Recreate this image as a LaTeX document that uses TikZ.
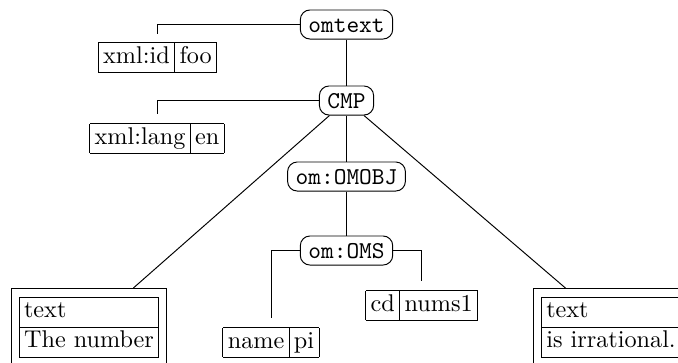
\documentclass[tikz,border=0pt]{standalone}
\setlength\tabcolsep{2pt}
\tikzset{
  elem/.style={draw, rounded corners=4pt, font=\ttfamily, inner xsep=3.33pt, inner ysep=0pt,
    minimum height=12pt, text height=6.2pt, text depth=0pt},
  attr/.style={inner sep=3.5pt, anchor=north},
  textbox/.style={draw, inner sep=3.33pt, anchor=north},
  conn/.style={line width=0.4pt}
}
\begin{document}
\begin{tikzpicture}[x=0.413pt,y=-0.413pt]
\clip (0,0) rectangle (678,362);
\useasboundingbox (0,0) rectangle (678,362);
\node[elem] (omtext) at (346.5,24.5) {omtext};
\node[elem] (cmp) at (346.5,100.5) {CMP};
\node[elem] (omobj) at (346.5,176.5) {om:OMOBJ};
\node[elem] (oms) at (346.5,250.5) {om:OMS};
\node[attr] (id) at (157.5,33.5) {\begin{tabular}{|l|l|}\hline xml:id&foo\\\hline\end{tabular}};
\node[attr] (lang) at (157,114) {\begin{tabular}{|l|l|}\hline xml:lang&en\\\hline\end{tabular}};
\node[attr] (name) at (271,318) {\begin{tabular}{|l|l|}\hline name&pi\\\hline\end{tabular}};
\node[attr] (cd) at (421.7,281) {\begin{tabular}{|l|l|}\hline cd&nums1\\\hline\end{tabular}};
\node[textbox] (t1) at (89,288) {\begin{tabular}{|l|}\hline text\\\hline The number\\\hline\end{tabular}};
\node[textbox] (t2) at (611,288) {\begin{tabular}{|l|}\hline text\\\hline is irrational.\\\hline\end{tabular}};
\draw[conn] (omtext.west) -| (id.north);
\draw[conn] (omtext) -- (cmp);
\draw[conn] (cmp.west) -| (lang.north);
\draw[conn] (cmp) -- (omobj);
\draw[conn] (cmp) -- (t1);
\draw[conn] (cmp) -- (t2);
\draw[conn] (omobj) -- (oms);
\draw[conn] (oms.west) -| (name.north);
\draw[conn] (oms.east) -| (cd.north);
\end{tikzpicture}
\end{document}
